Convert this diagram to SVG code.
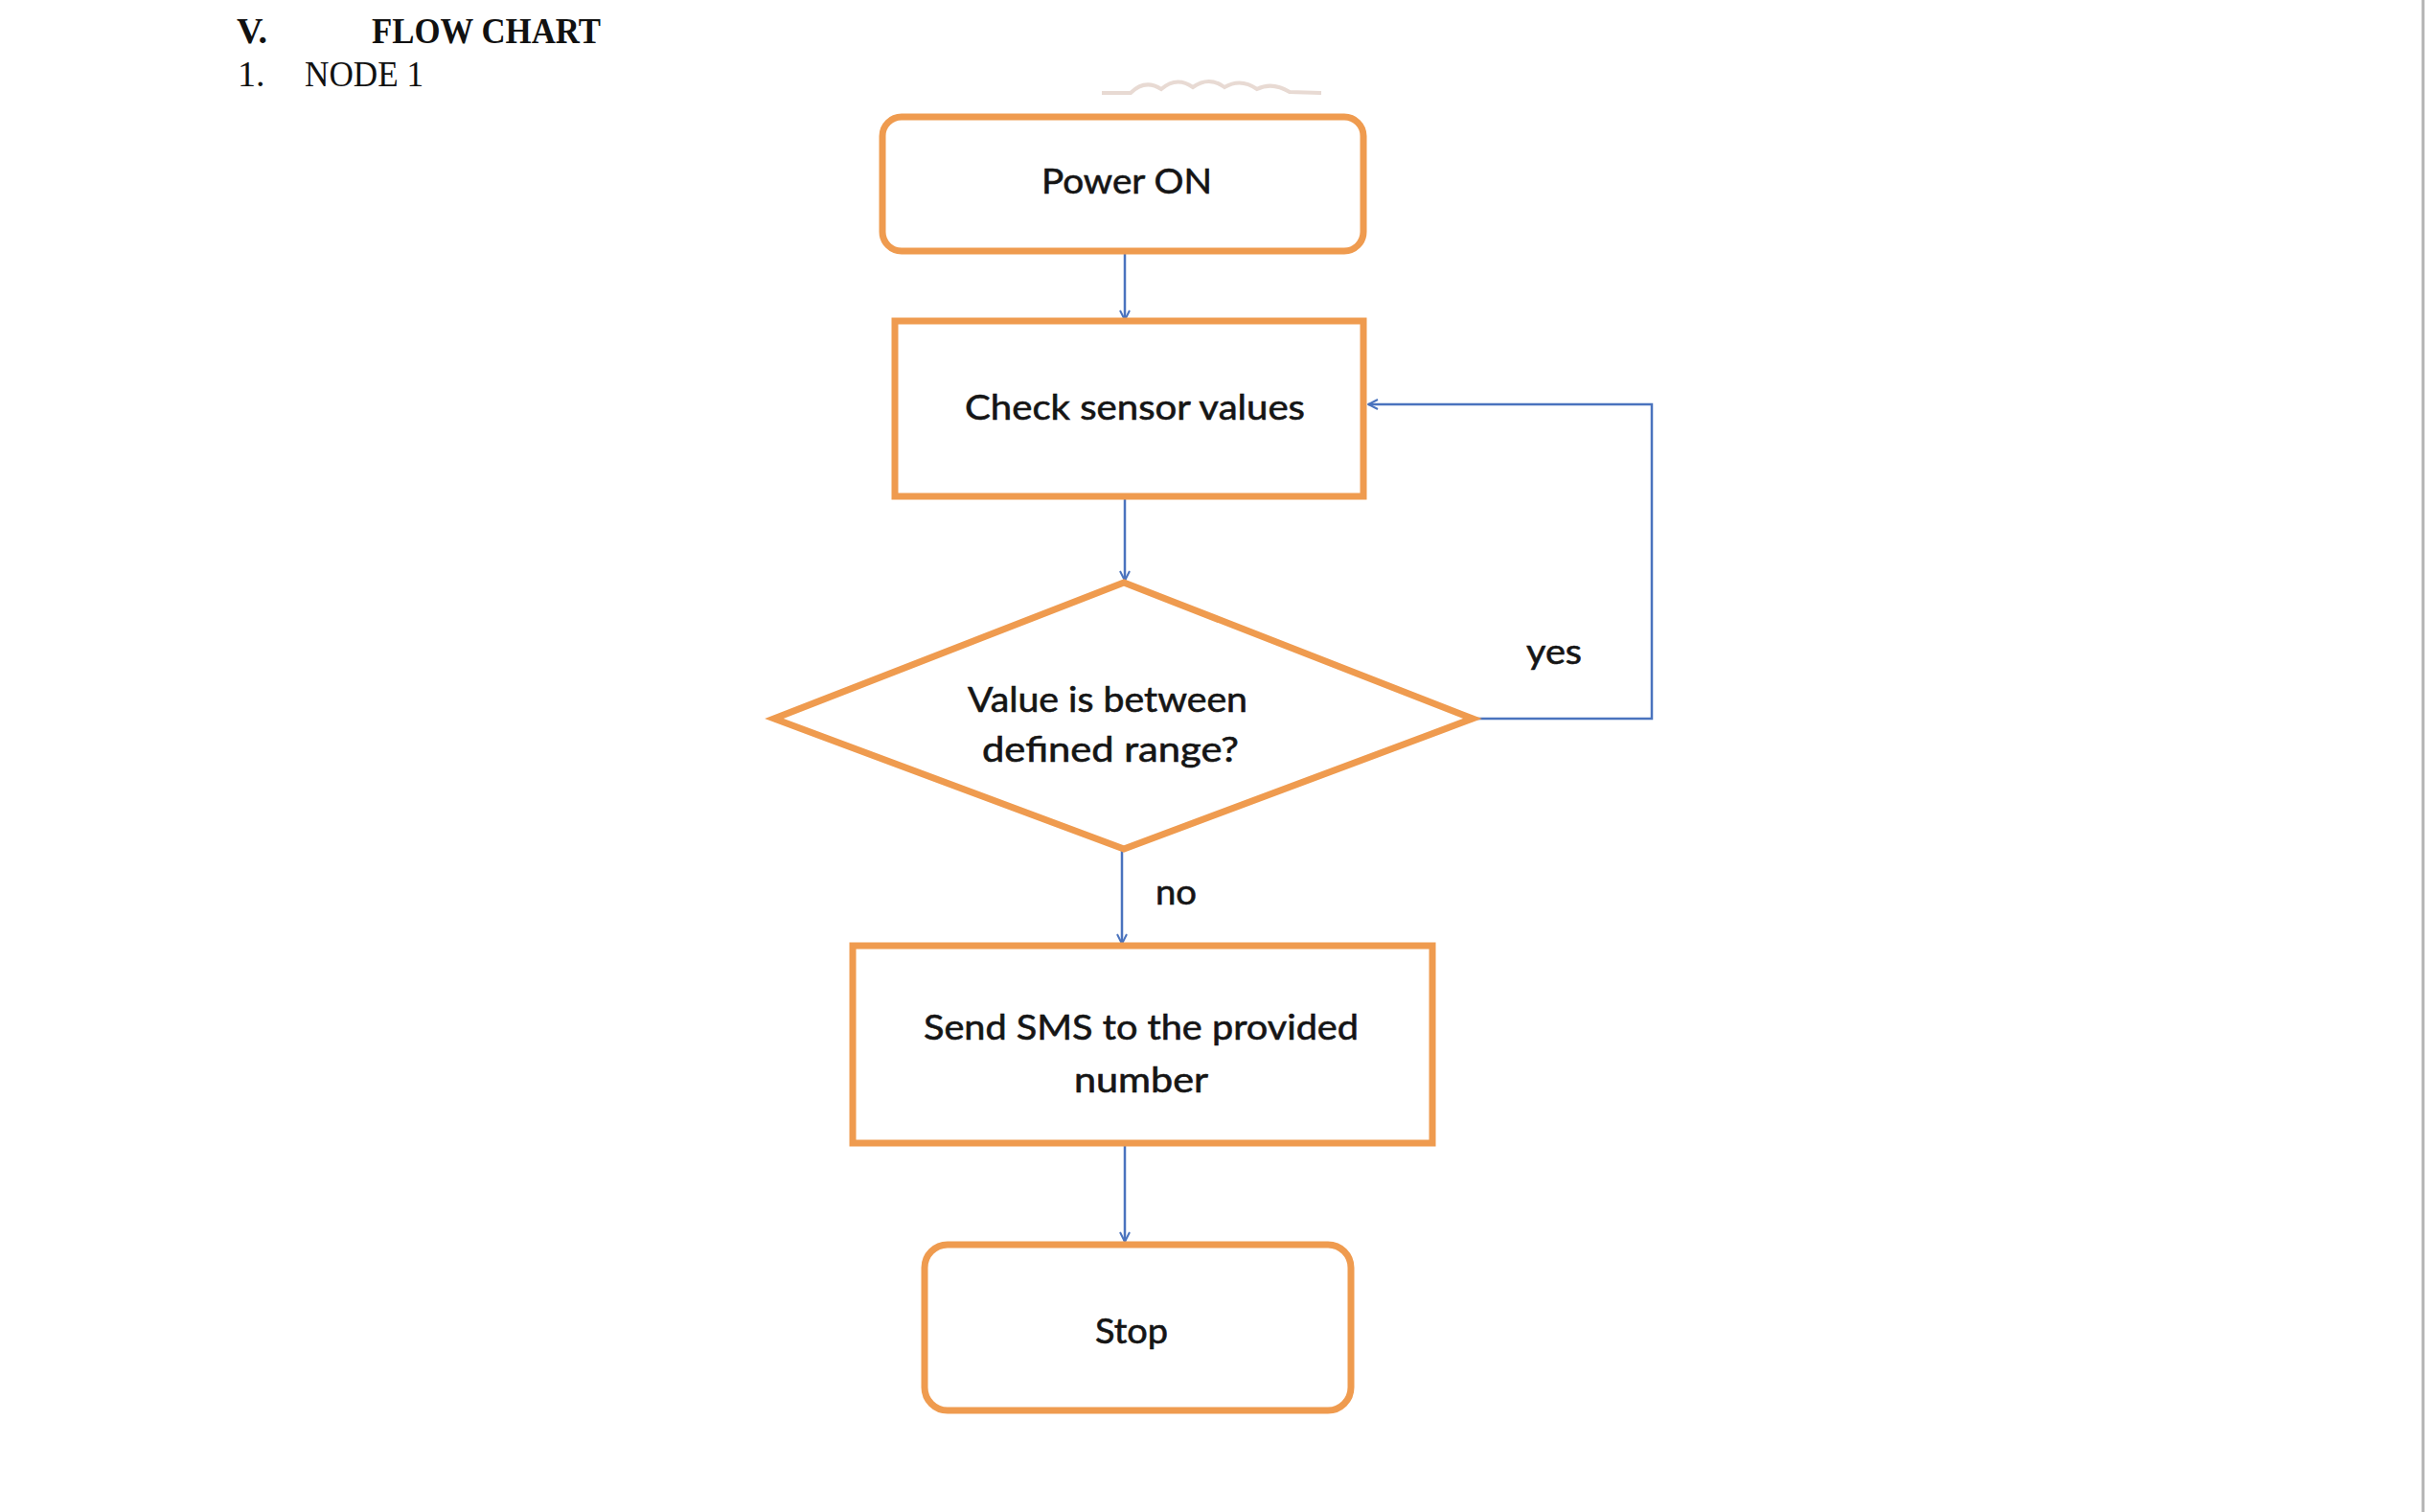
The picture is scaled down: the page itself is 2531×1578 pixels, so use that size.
<svg xmlns="http://www.w3.org/2000/svg" width="2531" height="1578" viewBox="0 0 2531 1578">
  <style>
    .node { fill: #ffffff; stroke: #EF9B4F; stroke-width: 7; }
    .lbl { font-family: Lato, "Open Sans", "Liberation Sans", sans-serif; font-size: 36px; fill: #151515; stroke: #151515; stroke-width: 0.6; }
    .conn { fill: none; stroke: #4A73BE; stroke-width: 2.5; }
    .head { font-family: "Liberation Serif", serif; font-size: 38px; fill: #111; }
  </style>
  <defs>
    <marker id="arr" viewBox="0 0 12 12" refX="11" refY="6" markerWidth="12" markerHeight="12" markerUnits="userSpaceOnUse" orient="auto">
      <path d="M1,1 L11,6 L1,11" fill="none" stroke="#4A73BE" stroke-width="2"/>
    </marker>
  </defs>
  <rect x="0" y="0" width="2531" height="1578" fill="#ffffff"/>
  <line x1="2529" y1="0" x2="2529" y2="1578" stroke="#b3b3b3" stroke-width="3"/>

  <g id="heading">
    <text class="head" x="247" y="45" font-weight="bold">V.</text>
    <text class="head" x="388" y="45" font-weight="bold" textLength="239" lengthAdjust="spacingAndGlyphs">FLOW CHART</text>
    <text class="head" x="248" y="90" font-size="36">1.</text>
    <text class="head" x="318" y="90" font-size="36" textLength="124" lengthAdjust="spacingAndGlyphs">NODE 1</text>
  </g>

  <path id="squiggle" d="M1150,97 L1180,97 Q1195,82 1212,93 Q1228,79 1245,91 Q1262,79 1278,91 Q1295,81 1312,93 Q1328,85 1346,96 L1379,97" fill="none" stroke="#E8DAD3" stroke-width="4"/>

  <g id="connectors">
    <line class="conn" x1="1174" y1="262" x2="1174" y2="334" marker-end="url(#arr)"/>
    <line class="conn" x1="1174" y1="518" x2="1174" y2="606" marker-end="url(#arr)"/>
    <line class="conn" x1="1171" y1="887" x2="1171" y2="985" marker-end="url(#arr)"/>
    <line class="conn" x1="1174" y1="1194" x2="1174" y2="1296" marker-end="url(#arr)"/>
    <polyline class="conn" points="1537,750 1724,750 1724,422 1428,422" marker-end="url(#arr)"/>
    <text class="lbl" x="1593" y="693" textLength="58" lengthAdjust="spacingAndGlyphs">yes</text>
    <text class="lbl" x="1206" y="944" textLength="43" lengthAdjust="spacingAndGlyphs">no</text>
  </g>

  <g id="power-on">
    <rect class="node" x="921" y="122" width="502" height="140" rx="20" ry="20"/>
    <text class="lbl" x="1087" y="202" textLength="178" lengthAdjust="spacingAndGlyphs">Power ON</text>
  </g>

  <g id="check-sensor">
    <rect class="node" x="934" y="335" width="489" height="183"/>
    <text class="lbl" x="1007" y="438" textLength="355" lengthAdjust="spacingAndGlyphs">Check sensor values</text>
  </g>

  <g id="decision">
    <polygon class="node" points="1173,608 1537,750 1173,886 808,750"/>
    <text class="lbl" x="1010" y="743" textLength="292" lengthAdjust="spacingAndGlyphs">Value is between</text>
    <text class="lbl" x="1025" y="795" textLength="268" lengthAdjust="spacingAndGlyphs">defined range?</text>
  </g>

  <g id="send-sms">
    <rect class="node" x="890" y="987" width="605" height="206"/>
    <text class="lbl" x="964" y="1085" textLength="454" lengthAdjust="spacingAndGlyphs">Send SMS to the provided</text>
    <text class="lbl" x="1121" y="1140" textLength="140" lengthAdjust="spacingAndGlyphs">number</text>
  </g>

  <g id="stop">
    <rect class="node" x="965" y="1299" width="445" height="173" rx="24" ry="24"/>
    <text class="lbl" x="1143" y="1402" textLength="76" lengthAdjust="spacingAndGlyphs">Stop</text>
  </g>
</svg>
